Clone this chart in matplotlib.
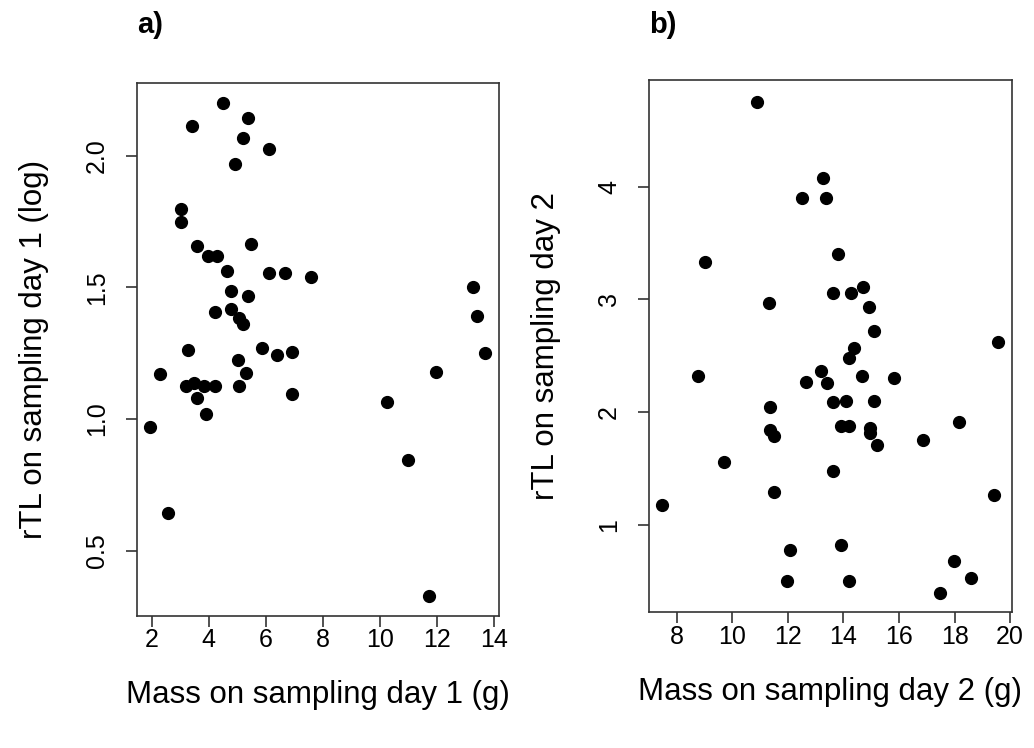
import matplotlib.pyplot as plt

plt.rcParams.update({'font.family': ['Liberation Sans', 'DejaVu Sans']})

# panel a: mass and rTL (log) on sampling day 1
mass_day1 = [4.51, 5.36, 3.42, 5.20, 6.12, 4.91, 3.01, 3.01, 3.59, 5.49,
             3.99, 4.29, 4.63, 6.12, 6.68, 7.60, 4.79, 5.36, 4.23, 4.79,
             5.07, 5.21, 3.29, 5.88, 6.40, 6.91, 2.28, 5.01, 5.32, 3.19,
             3.49, 3.83, 4.23, 5.07, 3.59, 6.91, 3.90, 1.94, 2.57, 13.25,
             13.39, 13.67, 11.95, 10.24, 10.97, 11.72]
rtl_day1 = [2.20, 2.144, 2.114, 2.068, 2.025, 1.968, 1.80, 1.75, 1.659, 1.664,
            1.62, 1.62, 1.563, 1.556, 1.556, 1.539, 1.488, 1.469, 1.408, 1.419,
            1.385, 1.361, 1.262, 1.27, 1.245, 1.256, 1.17, 1.225, 1.175, 1.127,
            1.138, 1.125, 1.125, 1.125, 1.081, 1.095, 1.02, 0.97, 0.644, 1.50,
            1.39, 1.25, 1.18, 1.065, 0.845, 0.327]

# panel b: mass and rTL on sampling day 2
mass_day2 = [10.89, 13.25, 12.50, 13.38, 13.79, 9.01, 14.69, 13.61, 14.26, 11.31,
             14.91, 15.10, 19.58, 14.38, 14.20, 13.19, 8.77, 14.67, 15.81, 12.65,
             13.40, 13.61, 14.09, 15.10, 11.37, 18.15, 13.90, 14.20, 11.37, 11.49,
             14.95, 14.97, 16.86, 15.21, 9.71, 13.61, 11.49, 19.41, 7.46, 12.08,
             13.90, 17.99, 18.58, 11.96, 14.21, 17.46]
rtl_day2 = [4.75, 4.08, 3.90, 3.90, 3.40, 3.33, 3.11, 3.06, 3.06, 2.97,
            2.93, 2.72, 2.62, 2.57, 2.48, 2.37, 2.32, 2.32, 2.30, 2.27,
            2.26, 2.09, 2.10, 2.10, 2.05, 1.91, 1.88, 1.88, 1.84, 1.79,
            1.86, 1.82, 1.75, 1.71, 1.56, 1.48, 1.29, 1.27, 1.18, 0.78,
            0.82, 0.68, 0.53, 0.50, 0.50, 0.40]

fig = plt.figure(figsize=(10.34, 7.48), dpi=100)
ax1 = fig.add_axes([0.1322, 0.1765, 0.3507, 0.7122])
ax2 = fig.add_axes([0.6274, 0.1814, 0.3514, 0.7116])

ax1.plot(mass_day1, rtl_day1, 'o', color='black', markersize=8.5)
ax1.set_xlim(1.474, 14.186)
ax1.set_ylim(0.252, 2.276)
ax1.set_xticks([2, 4, 6, 8, 10, 12, 14])
ax1.set_yticks([0.5, 1.0, 1.5, 2.0])
ax1.set_xlabel('Mass on sampling day 1 (g)', labelpad=20)
ax1.set_ylabel('rTL on sampling day 1 (log)', labelpad=26)
ax1.set_title('a)', loc='left', fontweight='bold', fontsize=21, pad=36)

ax2.plot(mass_day2, rtl_day2, 'o', color='black', markersize=8.5)
ax2.set_xlim(6.992, 20.07)
ax2.set_ylim(0.226, 4.946)
ax2.set_xticks([8, 10, 12, 14, 16, 18, 20])
ax2.set_yticks([1, 2, 3, 4])
ax2.set_xlabel('Mass on sampling day 2 (g)', labelpad=20)
ax2.set_ylabel('rTL on sampling day 2', labelpad=26)
ax2.set_title('b)', loc='left', fontweight='bold', fontsize=21, pad=34)

for ax in (ax1, ax2):
    ax.xaxis.label.set_fontsize(22.5)
    ax.yaxis.label.set_fontsize(22.5)
    ax.tick_params(labelsize=18, length=8, width=1.2, color='#333333')
    ax.tick_params(axis='x', pad=1)
    ax.tick_params(axis='y', pad=12)
    for lbl in ax.get_yticklabels():
        lbl.set_rotation(90)
        lbl.set_va('center')
    for s in ax.spines.values():
        s.set_linewidth(1.2)
        s.set_color('#333333')

fig.savefig('out.png', dpi=100)
